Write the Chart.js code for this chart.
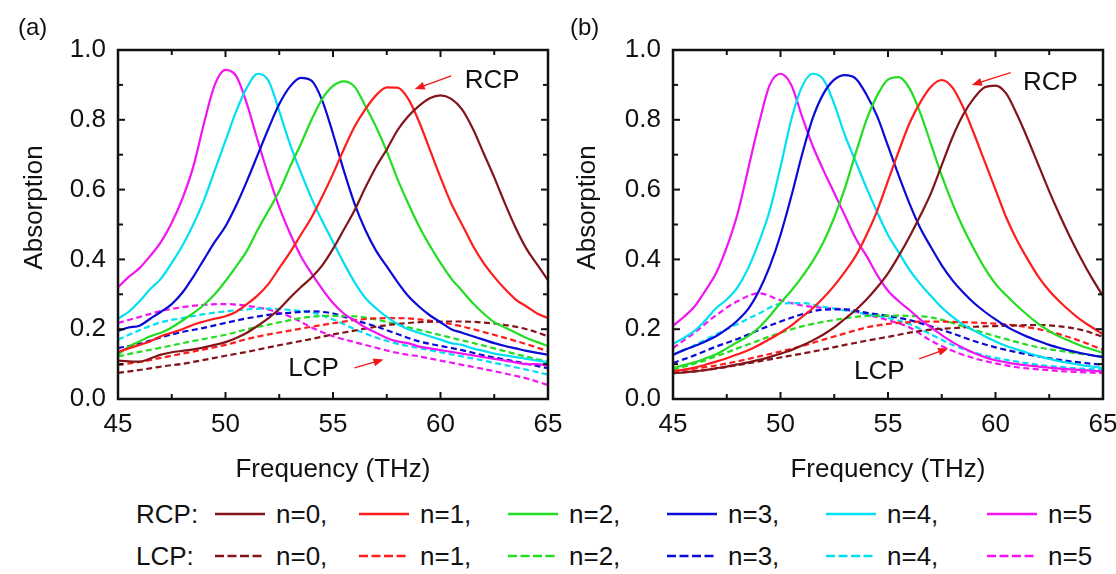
<!DOCTYPE html>
<html>
<head>
<meta charset="utf-8">
<script src="https://cdn.jsdelivr.net/npm/chart.js@4.4.1/dist/chart.umd.min.js"></script>
<style>
  body { margin: 0; background: #fff; font-family: "Liberation Sans", Arial, sans-serif; color: #111; }
  #wrap { position: relative; width: 1116px; height: 574px; overflow: hidden; }
  .panel { position: absolute; top: 0; height: 490px; }
  #panelA { left: 0; width: 580px; }
  #panelB { left: 556px; width: 560px; }
  .tag { position: absolute; top: 12px; font-size: 24px; line-height: 30px; }
  .lg-prefix, .lg-item { position: absolute; height: 30px; line-height: 30px; font-size: 26px; white-space: nowrap; }
  .lg-item { display: flex; align-items: center; gap: 11px; }
</style>
</head>
<body>
<div id="wrap">
  <div class="panel" id="panelA"><canvas id="chartA"></canvas></div>
  <div class="panel" id="panelB"><canvas id="chartB"></canvas></div>
  <div class="tag" style="left:18px">(a)</div>
  <div class="tag" style="left:570px">(b)</div>
  <div id="legend"></div>
</div>
<script>
// frequency grids (THz)
const freqFine = [45,45.5,46,46.5,47,47.5,48,48.5,49,49.5,50,50.5,51,51.5,52,52.5,53,53.5,54,54.5,55,55.5,56,56.5,57,57.5,58,58.5,59,59.5,60,60.5,61,61.5,62,62.5,63,63.5,64,64.5,65];
const freqCoarse = [45,46,47,48,49,50,51,52,53,54,55,56,57,58,59,60,61,62,63,64,65];

const orders = ['n=0', 'n=1', 'n=2', 'n=3', 'n=4', 'n=5'];
const seriesColors = ['#82141a', '#ff1c1c', '#22dd22', '#0b0bd8', '#00e0f2', '#f214f2'];

const xMajorTicks = [45, 50, 55, 60, 65];
const xMinorTicks = [47.5, 52.5, 57.5, 62.5];
const yMajorTicks = [0, 0.2, 0.4, 0.6, 0.8, 1.0];
const yMinorTicks = [0.1, 0.3, 0.5, 0.7, 0.9];

// (a) RCP, solid, on freqFine
const rcpA0 = [0.110,0.108,0.107,0.116,0.127,0.134,0.138,0.142,0.148,0.155,0.163,0.175,0.190,0.210,0.232,0.258,0.290,0.320,0.348,0.383,0.430,0.485,0.540,0.605,0.665,0.715,0.770,0.810,0.840,0.862,0.870,0.860,0.830,0.775,0.705,0.635,0.560,0.490,0.430,0.385,0.340];
const rcpA1 = [0.135,0.145,0.155,0.165,0.180,0.190,0.200,0.213,0.222,0.230,0.237,0.250,0.272,0.297,0.330,0.375,0.420,0.470,0.520,0.580,0.645,0.715,0.780,0.830,0.870,0.893,0.892,0.860,0.795,0.715,0.635,0.560,0.500,0.440,0.390,0.350,0.315,0.285,0.265,0.245,0.232];
const rcpA2 = [0.127,0.150,0.165,0.180,0.190,0.205,0.225,0.246,0.270,0.300,0.338,0.380,0.425,0.485,0.540,0.595,0.665,0.730,0.800,0.860,0.897,0.910,0.895,0.840,0.780,0.710,0.630,0.560,0.495,0.440,0.390,0.345,0.310,0.275,0.245,0.220,0.205,0.190,0.175,0.163,0.152];
const rcpA3 = [0.195,0.205,0.210,0.230,0.250,0.272,0.305,0.350,0.400,0.450,0.495,0.555,0.625,0.700,0.775,0.845,0.895,0.920,0.912,0.855,0.760,0.655,0.560,0.485,0.425,0.380,0.335,0.295,0.265,0.240,0.220,0.200,0.190,0.180,0.170,0.160,0.152,0.145,0.138,0.132,0.127];
const rcpA4 = [0.230,0.250,0.280,0.315,0.345,0.390,0.440,0.500,0.570,0.655,0.740,0.825,0.893,0.932,0.912,0.825,0.730,0.650,0.575,0.510,0.450,0.390,0.335,0.290,0.260,0.235,0.215,0.200,0.190,0.180,0.170,0.160,0.155,0.145,0.138,0.130,0.125,0.120,0.115,0.110,0.105];
const rcpA5 = [0.320,0.350,0.375,0.410,0.450,0.505,0.575,0.665,0.790,0.900,0.943,0.925,0.845,0.740,0.640,0.550,0.475,0.410,0.360,0.315,0.275,0.245,0.225,0.205,0.190,0.175,0.165,0.160,0.150,0.145,0.140,0.135,0.130,0.125,0.120,0.115,0.110,0.105,0.100,0.100,0.095];

// (a) LCP, dashed, on freqCoarse
const lcpA0 = [0.075,0.083,0.093,0.101,0.112,0.124,0.135,0.148,0.160,0.172,0.185,0.196,0.207,0.215,0.220,0.222,0.222,0.219,0.212,0.200,0.180];
const lcpA1 = [0.098,0.106,0.118,0.130,0.142,0.155,0.172,0.185,0.196,0.207,0.217,0.226,0.231,0.232,0.228,0.220,0.208,0.192,0.175,0.157,0.137];
const lcpA2 = [0.122,0.135,0.147,0.160,0.172,0.184,0.200,0.213,0.226,0.236,0.238,0.237,0.228,0.213,0.198,0.183,0.168,0.153,0.137,0.121,0.107];
const lcpA3 = [0.146,0.158,0.177,0.192,0.204,0.218,0.231,0.241,0.247,0.251,0.245,0.226,0.208,0.186,0.165,0.152,0.140,0.125,0.113,0.101,0.088];
const lcpA4 = [0.170,0.197,0.220,0.232,0.243,0.251,0.257,0.259,0.255,0.248,0.228,0.200,0.176,0.158,0.146,0.134,0.122,0.110,0.097,0.084,0.070];
const lcpA5 = [0.218,0.235,0.252,0.263,0.270,0.272,0.267,0.256,0.236,0.205,0.180,0.163,0.147,0.132,0.122,0.110,0.098,0.086,0.073,0.059,0.040];

// (b) RCP
const rcpB0 = [0.074,0.076,0.079,0.083,0.088,0.093,0.099,0.105,0.112,0.120,0.130,0.140,0.153,0.168,0.185,0.205,0.230,0.255,0.285,0.320,0.360,0.410,0.465,0.525,0.590,0.670,0.750,0.815,0.862,0.893,0.898,0.875,0.815,0.745,0.670,0.595,0.525,0.460,0.400,0.345,0.295];
const rcpB1 = [0.079,0.084,0.090,0.098,0.107,0.117,0.128,0.140,0.155,0.172,0.190,0.210,0.235,0.260,0.290,0.325,0.365,0.410,0.470,0.540,0.625,0.710,0.790,0.850,0.895,0.914,0.892,0.835,0.760,0.680,0.600,0.520,0.455,0.400,0.350,0.310,0.278,0.250,0.225,0.205,0.185];
const rcpB2 = [0.089,0.097,0.105,0.116,0.128,0.145,0.163,0.180,0.205,0.238,0.275,0.310,0.350,0.395,0.450,0.520,0.605,0.705,0.800,0.870,0.915,0.922,0.890,0.820,0.730,0.640,0.560,0.490,0.430,0.375,0.330,0.297,0.267,0.240,0.215,0.195,0.178,0.165,0.152,0.142,0.132];
const rcpB3 = [0.127,0.140,0.152,0.165,0.180,0.200,0.225,0.258,0.310,0.380,0.470,0.580,0.700,0.805,0.875,0.915,0.928,0.918,0.872,0.810,0.725,0.640,0.560,0.490,0.435,0.383,0.340,0.305,0.275,0.250,0.228,0.208,0.192,0.178,0.166,0.155,0.146,0.138,0.131,0.125,0.120];
const rcpB4 = [0.158,0.175,0.195,0.225,0.260,0.285,0.320,0.375,0.450,0.540,0.665,0.800,0.895,0.932,0.915,0.845,0.755,0.680,0.605,0.535,0.470,0.420,0.370,0.330,0.295,0.262,0.235,0.213,0.196,0.180,0.165,0.152,0.142,0.132,0.123,0.115,0.108,0.103,0.097,0.093,0.089];
const rcpB5 = [0.210,0.235,0.265,0.310,0.360,0.435,0.530,0.660,0.790,0.900,0.932,0.900,0.810,0.725,0.655,0.590,0.525,0.460,0.410,0.355,0.310,0.280,0.255,0.228,0.205,0.183,0.163,0.146,0.132,0.120,0.111,0.105,0.100,0.096,0.093,0.090,0.087,0.085,0.083,0.081,0.079];

// (b) LCP
const lcpB0 = [0.074,0.079,0.087,0.097,0.108,0.119,0.130,0.142,0.155,0.167,0.178,0.190,0.199,0.203,0.207,0.209,0.211,0.212,0.208,0.198,0.178];
const lcpB1 = [0.079,0.087,0.096,0.108,0.122,0.136,0.152,0.170,0.188,0.205,0.215,0.220,0.222,0.221,0.219,0.216,0.210,0.200,0.185,0.165,0.141];
const lcpB2 = [0.084,0.101,0.122,0.145,0.168,0.190,0.208,0.221,0.231,0.238,0.239,0.238,0.234,0.218,0.198,0.180,0.163,0.148,0.138,0.129,0.122];
const lcpB3 = [0.103,0.125,0.150,0.172,0.198,0.222,0.243,0.256,0.257,0.247,0.238,0.226,0.208,0.188,0.166,0.148,0.134,0.122,0.112,0.104,0.098];
const lcpB4 = [0.127,0.154,0.185,0.215,0.245,0.273,0.275,0.264,0.254,0.243,0.232,0.215,0.185,0.155,0.133,0.118,0.107,0.098,0.092,0.087,0.084];
const lcpB5 = [0.146,0.190,0.240,0.280,0.303,0.283,0.268,0.261,0.256,0.242,0.226,0.205,0.167,0.138,0.117,0.102,0.091,0.085,0.080,0.077,0.074];

// RCP / LCP labels with red pointer arrows, in data units
const notesA = [
  { text: 'RCP', x: 62.4, y: 0.912, from: [60.5, 0.926], to: [58.8, 0.888] },
  { text: 'LCP', x: 54.1, y: 0.087, from: [56.0, 0.089], to: [57.35, 0.113] },
];
const notesB = [
  { text: 'RCP', x: 62.55, y: 0.905, from: [60.7, 0.935], to: [58.9, 0.900] },
  { text: 'LCP', x: 54.6, y: 0.078, from: [56.45, 0.115], to: [57.8, 0.145] },
];

const FONT = '"Liberation Sans", Arial, sans-serif';

function buildDatasets(rcp, lcp) {
  const sets = [];
  rcp.forEach((vals, i) => sets.push({
    label: 'RCP ' + orders[i],
    data: vals.map((v, k) => ({ x: freqFine[k], y: v })),
    borderColor: seriesColors[i], borderWidth: 2.2,
    pointRadius: 0, fill: false, cubicInterpolationMode: 'monotone',
  }));
  lcp.forEach((vals, i) => sets.push({
    label: 'LCP ' + orders[i],
    data: vals.map((v, k) => ({ x: freqCoarse[k], y: v })),
    borderColor: seriesColors[i], borderWidth: 2.2, borderDash: [6, 3.5],
    pointRadius: 0, fill: false, cubicInterpolationMode: 'monotone',
  }));
  return sets;
}

// box frame with inward ticks on all sides, y title, annotations
const framePlugin = {
  id: 'frame',
  afterDatasetsDraw(chart, args, opts) {
    const { ctx, chartArea: a, scales: { x, y } } = chart;
    ctx.save();
    ctx.strokeStyle = '#111';
    ctx.lineWidth = 2;
    const seg = (x1, y1, x2, y2) => { ctx.beginPath(); ctx.moveTo(x1, y1); ctx.lineTo(x2, y2); ctx.stroke(); };
    xMajorTicks.forEach(v => { const p = x.getPixelForValue(v); seg(p, a.bottom, p, a.bottom - 7); seg(p, a.top, p, a.top + 7); });
    xMinorTicks.forEach(v => { const p = x.getPixelForValue(v); seg(p, a.bottom, p, a.bottom - 5); seg(p, a.top, p, a.top + 5); });
    yMajorTicks.forEach(v => { const p = y.getPixelForValue(v); seg(a.left, p, a.left + 7, p); seg(a.right, p, a.right - 7, p); });
    yMinorTicks.forEach(v => { const p = y.getPixelForValue(v); seg(a.left, p, a.left + 5, p); seg(a.right, p, a.right - 5, p); });
    ctx.lineWidth = 2.5;
    ctx.strokeRect(a.left, a.top, a.right - a.left, a.bottom - a.top);

    // y title sits a little above the box centre in the original
    ctx.fillStyle = '#111';
    ctx.font = `26px ${FONT}`;
    ctx.textAlign = 'center';
    ctx.textBaseline = 'middle';
    ctx.save();
    ctx.translate(opts.titleX, (a.top + a.bottom) / 2 - 17);
    ctx.rotate(-Math.PI / 2);
    ctx.fillText('Absorption', 0, 0);
    ctx.restore();

    (opts.notes || []).forEach(n => {
      ctx.fillStyle = '#111';
      ctx.fillText(n.text, x.getPixelForValue(n.x), y.getPixelForValue(n.y));
      const x1 = x.getPixelForValue(n.from[0]), y1 = y.getPixelForValue(n.from[1]);
      const x2 = x.getPixelForValue(n.to[0]), y2 = y.getPixelForValue(n.to[1]);
      const ang = Math.atan2(y2 - y1, x2 - x1);
      ctx.strokeStyle = '#f01818'; ctx.fillStyle = '#f01818'; ctx.lineWidth = 1.3;
      seg(x1, y1, x2 - 6 * Math.cos(ang), y2 - 6 * Math.sin(ang));
      ctx.beginPath();
      ctx.moveTo(x2, y2);
      ctx.lineTo(x2 - 10 * Math.cos(ang) + 4 * Math.sin(ang), y2 - 10 * Math.sin(ang) - 4 * Math.cos(ang));
      ctx.lineTo(x2 - 10 * Math.cos(ang) - 4 * Math.sin(ang), y2 - 10 * Math.sin(ang) + 4 * Math.cos(ang));
      ctx.closePath();
      ctx.fill();
    });
    ctx.restore();
  }
};

function makePanel(canvasId, rcp, lcp, notes, yWidth, padRight, titleX) {
  return new Chart(document.getElementById(canvasId), {
    type: 'line',
    data: { datasets: buildDatasets(rcp, lcp) },
    plugins: [framePlugin],
    options: {
      responsive: true,
      maintainAspectRatio: false,
      animation: false,
      layout: { padding: { top: 50, right: padRight, bottom: 0, left: 0 } },
      plugins: {
        legend: { display: false },
        tooltip: { enabled: false },
        frame: { notes, titleX },
      },
      scales: {
        x: {
          type: 'linear', min: 45, max: 65,
          grid: { display: false, drawTicks: false },
          border: { display: false },
          ticks: { stepSize: 5, color: '#111', padding: 10, font: { family: FONT, size: 26 } },
          title: { display: true, text: 'Frequency (THz)', color: '#111', padding: { top: 0, bottom: 5 }, font: { family: FONT, size: 26 } },
          // keep the box edges fixed, the end labels may hang over
          afterFit: s => { s.height = 91; s.paddingLeft = 0; s.paddingRight = 0; },
        },
        y: {
          min: 0, max: 1,
          grid: { display: false, drawTicks: false },
          border: { display: false },
          ticks: { stepSize: 0.2, color: '#111', padding: 12, font: { family: FONT, size: 26 }, callback: v => v.toFixed(1) },
          afterFit: s => { s.width = yWidth; s.paddingTop = 0; s.paddingBottom = 0; },
        }
      }
    }
  });
}

makePanel('chartA', [rcpA0, rcpA1, rcpA2, rcpA3, rcpA4, rcpA5], [lcpA0, lcpA1, lcpA2, lcpA3, lcpA4, lcpA5], notesA, 118, 32, 35);
makePanel('chartB', [rcpB0, rcpB1, rcpB2, rcpB3, rcpB4, rcpB5], [lcpB0, lcpB1, lcpB2, lcpB3, lcpB4, lcpB5], notesB, 117, 13, 32);

// shared legend below both panels
const legendX = [215, 359, 508, 667, 826, 987];
function legendRow(prefix, dashed, top) {
  let html = `<div class="lg-prefix" style="left:136px;top:${top}px">${prefix}:</div>`;
  orders.forEach((n, i) => {
    html += `
      <div class="lg-item" style="left:${legendX[i]}px;top:${top}px">
        <svg width="50" height="6"><line x1="0" y1="3" x2="50" y2="3" stroke="${seriesColors[i]}" stroke-width="2.6" ${dashed ? 'stroke-dasharray="9 3.5"' : ''}/></svg>
        <span>${n}${i < orders.length - 1 ? ',' : ''}</span>
      </div>`;
  });
  return html;
}
document.getElementById('legend').innerHTML = legendRow('RCP', false, 499) + legendRow('LCP', true, 541);
</script>
</body>
</html>
